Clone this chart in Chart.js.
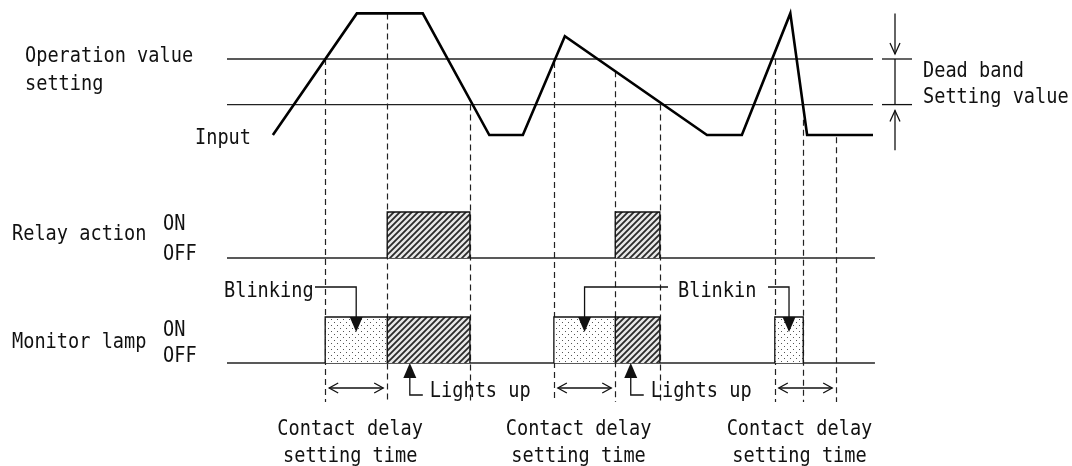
<!DOCTYPE html>
<html>
<head>
<meta charset="utf-8">
<script src="https://cdn.jsdelivr.net/npm/chart.js@4.4.1/dist/chart.umd.min.js"></script>
<style>
  html, body { margin: 0; padding: 0; background: #fff; }
  #wrap { width: 1072px; height: 466px; position: relative; }
</style>
</head>
<body>
<div id="wrap"><canvas id="myChart"></canvas></div>
<script>
// time axis: 0 = start of the setting lines, 100 = their end
// input axis: 0 = resting input, 100 = operation value setting
const inputTimes  = [7.1, 20.1, 30.3, 40.6, 45.8, 52.3, 74.3, 79.7, 87.2, 89.8, 100];
const inputValues = [0, 160, 160, 0, 0, 130, 0, 0, 160, 0, 0];
const operationValue = 100;
const deadBand = 60;
const lineStart = 0, lineEnd = 100;

// dashed timing markers and the input level where each one starts
const markerTimes  = [15.2, 24.8, 37.6, 50.6, 60.1, 67.0, 84.8, 89.2, 94.3];
const markerLevels = [100, 160, 40, 96, 84, 40, 100, 20, -3];

const relayOn      = [[24.8, 37.6], [60.1, 67.0]];
const lampBlink    = [[15.2, 24.8], [50.6, 60.1], [84.8, 89.2]];
const lampLit      = [[24.8, 37.6], [60.1, 67.0]];
const delayWindows = [[15.2, 24.8], [50.6, 60.1], [84.8, 94.3]];
const litArrowTimes = [28.3, 62.5];

const thresholdLabel = ['Operation value', 'setting'];
const deadBandLabel  = ['Dead band', 'Setting value'];
const inputLabel     = 'Input';
const rowLabels      = ['Relay action', 'Monitor lamp'];
const stateLabels    = ['ON', 'OFF'];
const blinkLabels    = ['Blinking', 'Blinkin'];
const litLabel       = 'Lights up';
const delayLabel     = ['Contact delay', 'setting time'];

const W = 1072, H = 466;

// min/max so that value v0 lands on pixel p0 and v1 on p1
function fitX(v0, p0, v1, p1) {
  const k = (p1 - p0) / (v1 - v0);
  const min = v0 - p0 / k;
  return { min: min, max: min + W / k };
}
function fitY(v0, p0, v1, p1) {
  const k = (p0 - p1) / (v1 - v0);
  const min = v0 - (H - p0) / k;
  return { min: min, max: min + H / k };
}
const xr = fitX(0, 227, 100, 873);
const yInR = fitY(0, 135, 100, 59);
const yRelayR = fitY(0, 258, 1, 212);
const yLampR = fitY(0, 363, 1, 317);

function makeHatch() {
  const c = document.createElement('canvas');
  c.width = 6; c.height = 6;
  const g = c.getContext('2d');
  g.fillStyle = '#e8e8e8';
  g.fillRect(0, 0, 6, 6);
  g.strokeStyle = '#2a2a2a';
  g.lineWidth = 1.8;
  g.beginPath();
  g.moveTo(0, 6); g.lineTo(6, 0);
  g.moveTo(-1, 1); g.lineTo(1, -1);
  g.moveTo(5, 7); g.lineTo(7, 5);
  g.stroke();
  return g.createPattern(c, 'repeat');
}
function makeDots() {
  const c = document.createElement('canvas');
  c.width = 6; c.height = 6;
  const g = c.getContext('2d');
  g.fillStyle = '#fff';
  g.fillRect(0, 0, 6, 6);
  g.fillStyle = '#555';
  g.fillRect(1, 1, 1, 1);
  g.fillRect(4, 4, 1, 1);
  return g.createPattern(c, 'repeat');
}
const hatch = makeHatch();
const dots = makeDots();

function hline(y, axis, width, extra) {
  return {
    data: [{ x: lineStart, y: y }, { x: lineEnd + (extra || 0), y: y }],
    yAxisID: axis, borderColor: '#222', borderWidth: width,
    pointRadius: 0, fill: false
  };
}
function boxes(list, axis, pattern) {
  return list.map(([t0, t1]) => ({
    data: [{ x: t0, y: 0 }, { x: t0, y: 1 }, { x: t1, y: 1 }, { x: t1, y: 0 }],
    yAxisID: axis, borderColor: '#111', borderWidth: 1.3,
    backgroundColor: pattern, fill: 'origin', pointRadius: 0
  }));
}

const datasets = [
  {
    data: inputTimes.map((t, i) => ({ x: t, y: inputValues[i] })),
    yAxisID: 'yIn', borderColor: '#000', borderWidth: 2.6,
    borderJoinStyle: 'miter', pointRadius: 0, fill: false
  },
  hline(operationValue, 'yIn', 1.3),
  hline(operationValue - deadBand, 'yIn', 1.3),
  ...boxes(relayOn, 'yRelay', hatch),
  ...boxes(lampBlink, 'yLamp', dots),
  ...boxes(lampLit, 'yLamp', hatch),
  hline(0, 'yRelay', 1.3, 0.3),
  hline(0, 'yLamp', 1.3, 0.3)
];

const SX = 0.846;
function txt(ctx, s, x, y, align) {
  ctx.save();
  ctx.font = '22px "DejaVu Sans Mono"';
  ctx.textBaseline = 'alphabetic';
  ctx.textAlign = 'left';
  ctx.fillStyle = '#111';
  const w = ctx.measureText(s).width * SX;
  const x0 = align === 'center' ? x - w / 2 : x;
  ctx.translate(x0, y);
  ctx.scale(SX, 1);
  ctx.fillText(s, 0, 0);
  ctx.restore();
}
function tri(ctx, x, tip, dir) {
  // dir 1 = pointing down, -1 = pointing up
  ctx.beginPath();
  ctx.moveTo(x - 6.5, tip - 15 * dir);
  ctx.lineTo(x + 6.5, tip - 15 * dir);
  ctx.lineTo(x, tip);
  ctx.closePath();
  ctx.fill();
}
function openHead(ctx, x, y, dir) {
  ctx.beginPath();
  ctx.moveTo(x - 9 * dir, y - 5);
  ctx.lineTo(x, y);
  ctx.lineTo(x - 9 * dir, y + 5);
  ctx.stroke();
}
function openHeadV(ctx, x, y, dir) {
  ctx.beginPath();
  ctx.moveTo(x - 5, y - 11 * dir);
  ctx.lineTo(x, y);
  ctx.lineTo(x + 5, y - 11 * dir);
  ctx.stroke();
}
function seg(ctx, pts) {
  ctx.beginPath();
  ctx.moveTo(pts[0][0], pts[0][1]);
  for (let i = 1; i < pts.length; i++) ctx.lineTo(pts[i][0], pts[i][1]);
  ctx.stroke();
}

const markers = {
  id: 'markers',
  beforeDatasetsDraw(chart) {
    const ctx = chart.ctx;
    const xs = chart.scales.x, yIn = chart.scales.yIn, yLamp = chart.scales.yLamp;
    ctx.save();
    ctx.strokeStyle = '#222';
    ctx.lineWidth = 1.2;
    ctx.setLineDash([6, 4]);
    markerTimes.forEach((t, i) => {
      const x = Math.round(xs.getPixelForValue(t)) + 0.5;
      seg(ctx, [[x, yIn.getPixelForValue(markerLevels[i])], [x, yLamp.getPixelForValue(-0.85)]]);
    });
    ctx.restore();
  },
  afterDatasetsDraw(chart) {
    const ctx = chart.ctx;
    const xs = chart.scales.x, yIn = chart.scales.yIn;
    const yRelay = chart.scales.yRelay, yLamp = chart.scales.yLamp;
    const X = t => xs.getPixelForValue(t);
    ctx.save();
    ctx.strokeStyle = '#111';
    ctx.fillStyle = '#111';
    ctx.lineWidth = 1.3;

    // left labels
    const yOp = yIn.getPixelForValue(operationValue);
    const yLow = yIn.getPixelForValue(operationValue - deadBand);
    txt(ctx, thresholdLabel[0], 25, yOp + 3);
    txt(ctx, thresholdLabel[1], 25, yOp + 31);
    txt(ctx, inputLabel, 195, yIn.getPixelForValue(0) + 9);
    txt(ctx, rowLabels[0], 12, yRelay.getPixelForValue(0) - 18);
    txt(ctx, stateLabels[0], 163, yRelay.getPixelForValue(1) + 18);
    txt(ctx, stateLabels[1], 163, yRelay.getPixelForValue(0) + 2);
    txt(ctx, rowLabels[1], 12, yLamp.getPixelForValue(0) - 15);
    txt(ctx, stateLabels[0], 163, yLamp.getPixelForValue(1) + 19);
    txt(ctx, stateLabels[1], 163, yLamp.getPixelForValue(0) - 1);

    // dead band marker
    const xd = X(lineEnd) + 22;
    seg(ctx, [[xd - 13, yOp], [xd + 17, yOp]]);
    seg(ctx, [[xd - 13, yLow], [xd + 17, yLow]]);
    seg(ctx, [[xd, yOp], [xd, yLow]]);
    seg(ctx, [[xd, yIn.getPixelForValue(160)], [xd, yOp - 5]]);
    openHeadV(ctx, xd, yOp - 5, 1);
    seg(ctx, [[xd, yIn.getPixelForValue(-20)], [xd, yLow + 6]]);
    openHeadV(ctx, xd, yLow + 6, -1);
    txt(ctx, deadBandLabel[0], xd + 28, yOp + 18);
    txt(ctx, deadBandLabel[1], xd + 28, yLow - 2);

    // blinking callouts
    const lampTop = yLamp.getPixelForValue(1);
    const yc = lampTop - 30;
    const bc = lampBlink.map(([a, b]) => X((a + b) / 2));
    txt(ctx, blinkLabels[0], 224, yc + 10);
    seg(ctx, [[315, yc], [bc[0], yc], [bc[0], lampTop]]);
    tri(ctx, bc[0], lampTop + 15, 1);
    txt(ctx, blinkLabels[1], 678, yc + 10);
    seg(ctx, [[668, yc], [bc[1], yc], [bc[1], lampTop]]);
    tri(ctx, bc[1], lampTop + 15, 1);
    seg(ctx, [[768, yc], [bc[2], yc], [bc[2], lampTop]]);
    tri(ctx, bc[2], lampTop + 15, 1);

    // lights up callouts
    const lampOff = yLamp.getPixelForValue(0);
    litArrowTimes.forEach(t => {
      const x = X(t);
      tri(ctx, x, lampOff, -1);
      seg(ctx, [[x, lampOff + 15], [x, lampOff + 32], [x + 13, lampOff + 32]]);
      txt(ctx, litLabel, x + 20, lampOff + 34);
    });

    // contact delay spans
    const ya = lampOff + 25;
    delayWindows.forEach(([a, b]) => {
      const x0 = X(a) + 4, x1 = X(b) - 4;
      seg(ctx, [[x0, ya], [x1, ya]]);
      openHead(ctx, x0, ya, -1);
      openHead(ctx, x1, ya, 1);
      const cx = (X(a) + X(b)) / 2 - 6;
      txt(ctx, delayLabel[0], cx, lampOff + 72, 'center');
      txt(ctx, delayLabel[1], cx, lampOff + 99, 'center');
    });
    ctx.restore();
  }
};

const ctx = document.getElementById('myChart').getContext('2d');
const chart = new Chart(ctx, {
  type: 'line',
  data: { datasets: datasets },
  options: {
    responsive: true,
    maintainAspectRatio: false,
    animation: false,
    layout: { padding: 0 },
    plugins: { legend: { display: false }, tooltip: { enabled: false } },
    elements: { line: { tension: 0 } },
    scales: {
      x: { type: 'linear', display: false, min: xr.min, max: xr.max },
      yIn: { type: 'linear', display: false, min: yInR.min, max: yInR.max },
      yRelay: { type: 'linear', display: false, min: yRelayR.min, max: yRelayR.max },
      yLamp: { type: 'linear', display: false, min: yLampR.min, max: yLampR.max }
    }
  },
  plugins: [markers]
});
</script>
</body>
</html>
